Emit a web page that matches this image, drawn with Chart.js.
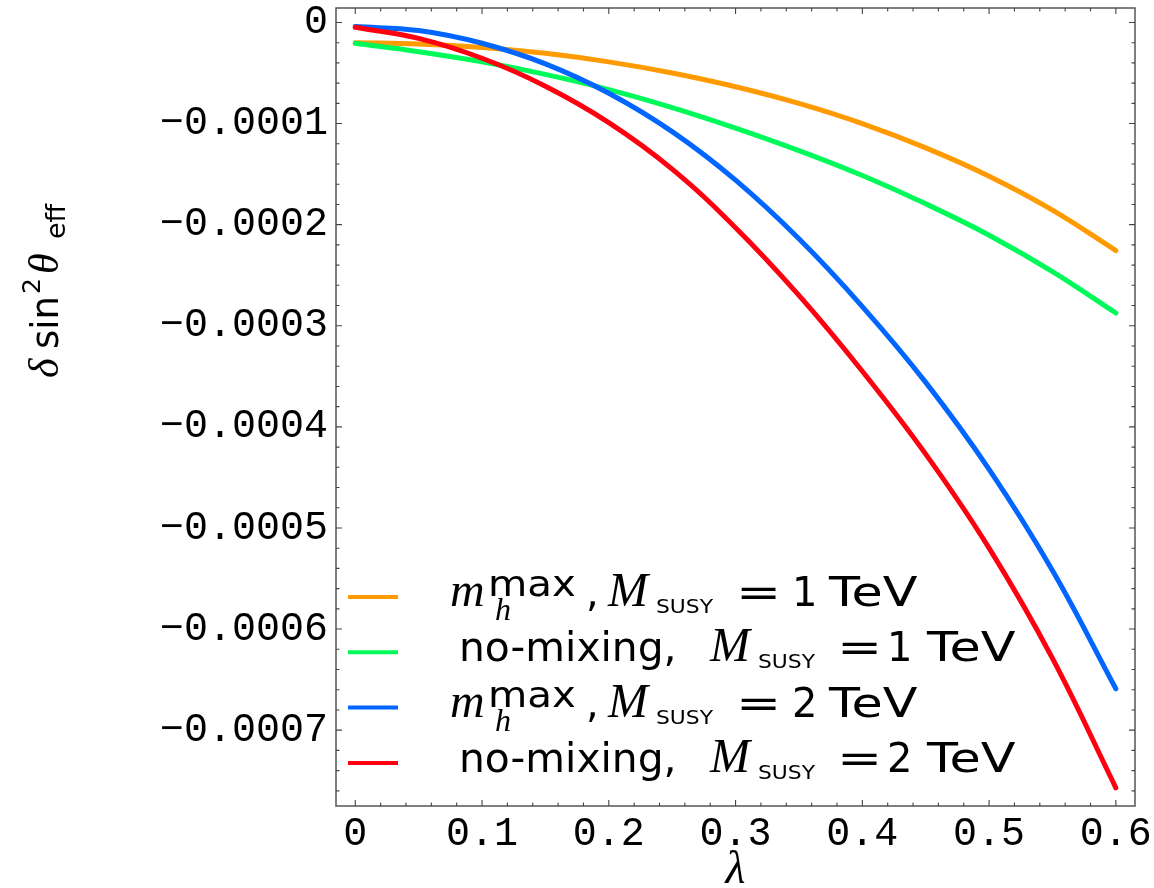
<!DOCTYPE html>
<html>
<head>
<meta charset="utf-8">
<script src="https://cdn.jsdelivr.net/npm/chart.js@4.4.1/dist/chart.umd.min.js"></script>
<style>
html,body{margin:0;padding:0;background:#fff;}
#wrap{width:1154px;height:888px;position:relative;}
</style>
</head>
<body>
<div id="wrap"><canvas id="c" width="1154" height="888"></canvas></div>
<script>
// ---------------- DATA ----------------
const lambdaValues = [0, 0.05, 0.1, 0.15, 0.2, 0.25, 0.3, 0.35, 0.4, 0.45, 0.5, 0.55, 0.6];

const mhmax1TeV = [-2.00e-5, -2.13e-5, -2.47e-5, -3.05e-5, -3.90e-5, -5.00e-5, -6.36e-5,
                   -8.01e-5, -1.001e-4, -1.241e-4, -1.521e-4, -1.856e-4, -2.256e-4];
const noMix1TeV  = [-2.06e-5, -2.89e-5, -3.89e-5, -5.14e-5, -6.64e-5, -8.42e-5, -1.045e-4,
                   -1.268e-4, -1.514e-4, -1.794e-4, -2.104e-4, -2.464e-4, -2.874e-4];
const mhmax2TeV  = [-4.1e-6, -8.0e-6, -2.06e-5, -4.10e-5, -7.00e-5, -1.08e-4, -1.56e-4,
                   -2.14e-4, -2.81e-4, -3.56e-4, -4.42e-4, -5.42e-4, -6.59e-4];
const noMix2TeV  = [-4.8e-6, -1.57e-5, -3.54e-5, -6.30e-5, -9.90e-5, -1.450e-4, -2.030e-4,
                   -2.700e-4, -3.450e-4, -4.270e-4, -5.200e-4, -6.290e-4, -7.570e-4];

const seriesLabels = ["m_h^max, M_SUSY = 1 TeV", "no-mixing, M_SUSY = 1 TeV",
                      "m_h^max, M_SUSY = 2 TeV", "no-mixing, M_SUSY = 2 TeV"];
const legendScenario = ["mhmax", "nomix", "mhmax", "nomix"];
const legendMass = ["1", "1", "2", "2"];
const seriesColors = ["#FF9A00", "#00FA5A", "#0066FF", "#FF0010"];

const xTickValues = [0, 0.1, 0.2, 0.3, 0.4, 0.5, 0.6];
const yTickValues = [0, -0.0001, -0.0002, -0.0003, -0.0004, -0.0005, -0.0006, -0.0007];
const xTickLabels = ["0", "0.1", "0.2", "0.3", "0.4", "0.5", "0.6"];
const yTickLabels = ["0", "\u22120.0001", "\u22120.0002", "\u22120.0003", "\u22120.0004",
                     "\u22120.0005", "\u22120.0006", "\u22120.0007"];
const xMinorStep = 0.02;
const yMinorStep = 0.00002;

// ---------------- HELPERS ----------------
function piece(ctx, text, font, x, y, sx) {
  ctx.save();
  ctx.translate(x, y);
  ctx.scale(sx || 1, 1);
  ctx.font = font;
  ctx.textAlign = 'left';
  ctx.textBaseline = 'alphabetic';
  ctx.fillStyle = '#000';
  ctx.fillText(text, 0, 0);
  ctx.restore();
}

const SERIF_I = (s) => 'italic ' + s + 'px "Liberation Serif", "DejaVu Serif", serif';
const SANS = (s) => s + 'px "DejaVu Sans", sans-serif';

const framePlugin = {
  id: 'framePlugin',
  afterDatasetsDraw(chart) {
    const ctx = chart.ctx;
    const a = chart.chartArea;
    const xs = chart.scales.x, ys = chart.scales.y;
    ctx.save();
    ctx.strokeStyle = '#555';
    ctx.lineWidth = 1.5;
    ctx.strokeRect(a.left, a.top, a.right - a.left, a.bottom - a.top);
    ctx.lineWidth = 1.1;
    ctx.strokeStyle = '#444';
    const xMajor = new Set(xTickValues.map(v => v.toFixed(3)));
    for (let i = 0; i <= 30; i++) {
      const v = i * xMinorStep;
      const px = xs.getPixelForValue(v);
      const len = xMajor.has(v.toFixed(3)) ? 6 : 3.5;
      ctx.beginPath();
      ctx.moveTo(px, a.bottom); ctx.lineTo(px, a.bottom - len);
      ctx.moveTo(px, a.top); ctx.lineTo(px, a.top + len);
      ctx.stroke();
    }
    const yMajor = new Set(yTickValues.map(v => v.toFixed(6)));
    for (let i = 0; i <= 38; i++) {
      const v = -i * yMinorStep;
      const py = ys.getPixelForValue(v);
      const len = yMajor.has(v.toFixed(6)) ? 6 : 3.5;
      ctx.beginPath();
      ctx.moveTo(a.left, py); ctx.lineTo(a.left + len, py);
      ctx.moveTo(a.right, py); ctx.lineTo(a.right - len, py);
      ctx.stroke();
    }
    ctx.restore();
  },
  afterDraw(chart) {
    const ctx = chart.ctx;
    const a = chart.chartArea;
    // ----- legend -----
    chart.data.datasets.forEach((ds, i) => {
      const base = a.top + 598 + 55.3 * i;
      ctx.save();
      ctx.strokeStyle = ds.borderColor;
      ctx.lineWidth = 4;
      ctx.beginPath();
      ctx.moveTo(a.left + 12, base - 9);
      ctx.lineTo(a.left + 62, base - 9);
      ctx.stroke();
      ctx.restore();
      const num = legendMass[i];
      if (legendScenario[i] === 'mhmax') {
        const x0 = a.left + 114;
        piece(ctx, 'm', SERIF_I(48), x0, base);
        piece(ctx, 'max', SANS(36), x0 + 38, base - 10, 1.12);
        piece(ctx, 'h', SERIF_I(32), x0 + 45, base + 14);
        piece(ctx, ',', SANS(40), x0 + 136, base);
        piece(ctx, 'M', SERIF_I(48), x0 + 158, base);
        piece(ctx, 'SUSY', SANS(19), x0 + 206, base + 7, 1.15);
        piece(ctx, '=', SANS(40), x0 + 286, base, 1.35);
        piece(ctx, num, SANS(40), x0 + 342, base);
        piece(ctx, 'TeV', SANS(40), x0 + 379, base, 1.27);
      } else {
        const x0 = a.left + 123;
        piece(ctx, 'no-mixing,', SANS(40), x0, base, 1.02);
        piece(ctx, 'M', SERIF_I(48), x0 + 251, base);
        piece(ctx, 'SUSY', SANS(19), x0 + 299, base + 7, 1.15);
        piece(ctx, '=', SANS(40), x0 + 378, base, 1.35);
        piece(ctx, num, SANS(40), x0 + 428, base);
        piece(ctx, 'TeV', SANS(40), x0 + 468, base, 1.27);
      }
    });
    // ----- y axis title (rotated) -----
    ctx.save();
    ctx.translate(58, 378);
    ctx.rotate(-Math.PI / 2);
    piece(ctx, '\u03B4', SERIF_I(42), 0, 0);
    piece(ctx, 'sin', SANS(37), 29, 0);
    piece(ctx, '2', SANS(25), 84, -18);
    piece(ctx, '\u03B8', SERIF_I(42), 104, 0);
    piece(ctx, 'eff', SANS(27), 139, 7);
    ctx.restore();
    // ----- x axis title -----
    ctx.save();
    ctx.font = SERIF_I(46);
    ctx.textAlign = 'center';
    ctx.textBaseline = 'alphabetic';
    ctx.fillStyle = '#000';
    ctx.fillText('\u03BB', (a.left + a.right) / 2, 883);
    ctx.restore();
  }
};

const datasets = [mhmax1TeV, noMix1TeV, mhmax2TeV, noMix2TeV].map((vals, i) => ({
  label: seriesLabels[i],
  data: lambdaValues.map((x, j) => ({ x: x, y: vals[j] })),
  borderColor: seriesColors[i],
  backgroundColor: seriesColors[i],
  borderWidth: 5,
  pointRadius: 0,
  borderCapStyle: 'round',
  borderJoinStyle: 'round',
  tension: 0.4,
  fill: false,
  order: 4 - i
}));

const monoFont = { family: '"Liberation Mono", "DejaVu Sans Mono", monospace', size: 40 };

new Chart(document.getElementById('c'), {
  type: 'line',
  data: { datasets: datasets },
  options: {
    responsive: false,
    animation: false,
    events: [],
    layout: { padding: { left: 0, top: 8, right: 19, bottom: 0 } },
    plugins: { legend: { display: false }, tooltip: { enabled: false } },
    scales: {
      x: {
        type: 'linear',
        min: -0.0152,
        max: 0.6151,
        grid: { display: false, drawTicks: false },
        border: { display: false },
        afterBuildTicks: (s) => { s.ticks = xTickValues.map(v => ({ value: v })); },
        afterFit: (s) => { s.height = 82; s.paddingLeft = 0; s.paddingRight = 0; },
        ticks: {
          color: '#000',
          font: monoFont,
          padding: 4,
          maxRotation: 0,
          autoSkip: false,
          callback: (v) => { const k = xTickValues.findIndex(t => Math.abs(t - v) < 1e-9); return k >= 0 ? xTickLabels[k] : ''; }
        }
      },
      y: {
        type: 'linear',
        min: -0.000775,
        max: 0.0000143,
        grid: { display: false, drawTicks: false },
        border: { display: false },
        afterBuildTicks: (s) => { s.ticks = yTickValues.map(v => ({ value: v })); },
        afterFit: (s) => { s.width = 336; s.paddingTop = 0; s.paddingBottom = 0; },
        ticks: {
          color: '#000',
          font: monoFont,
          padding: 8,
          autoSkip: false,
          callback: (v) => { const k = yTickValues.findIndex(t => Math.abs(t - v) < 1e-12); return k >= 0 ? yTickLabels[k] : ''; }
        }
      }
    }
  },
  plugins: [framePlugin]
});
</script>
</body>
</html>
